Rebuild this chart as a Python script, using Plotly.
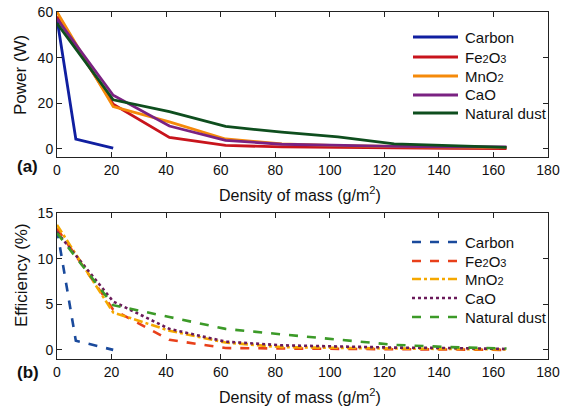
import plotly.graph_objects as go

# ---------------- data ----------------
x_main = [0, 20.6, 41.2, 61.8, 82.4, 103, 123.6, 144.2, 164.8]
x_carbon = [0, 6.9, 20.6]

series_names = ["Carbon", "Fe<span style='font-size:11px'>2</span>O<span style='font-size:11px'>3</span>",
                "MnO<span style='font-size:11px'>2</span>", "CaO", "Natural dust"]

power_carbon = [57, 4.3, 0.3]
power_fe2o3 = [58, 19.5, 5.0, 1.5, 0.8, 0.5, 0.3, 0.2, 0.1]
power_mno2 = [60, 18.5, 11.8, 4.3, 2.2, 1.4, 1.0, 0.7, 0.5]
power_cao = [57, 23.5, 10.0, 3.7, 2.0, 1.4, 1.1, 0.9, 0.8]
power_dust = [55, 21.5, 16.3, 9.8, 7.3, 5.2, 2.2, 1.4, 0.6]

eff_carbon = [13.2, 1.0, 0.0]
eff_fe2o3 = [13.3, 4.4, 1.1, 0.2, 0.15, 0.1, 0.05, 0.05, 0.0]
eff_mno2 = [13.7, 4.1, 2.1, 0.8, 0.3, 0.2, 0.15, 0.1, 0.05]
eff_cao = [12.9, 5.3, 2.3, 0.9, 0.5, 0.35, 0.25, 0.2, 0.1]
eff_dust = [12.8, 4.9, 3.6, 2.3, 1.7, 1.1, 0.55, 0.3, 0.15]

x_ticks = [0, 20, 40, 60, 80, 100, 120, 140, 160, 180]

# ---------------- styles ----------------
top_colors = ["#101fa0", "#c8141c", "#f58a0a", "#7a2282", "#0e4e1e"]
bot_colors = ["#1a4a9c", "#e8401a", "#f5a800", "#6a1a5a", "#3c9a28"]
bot_dash = ["dash", "dash", "dashdot", "dot", "dash"]

FONT = "Liberation Sans, Arial, sans-serif"

W, H = 570, 406
ML, MR, MT, MB = 57, 22, 12, 47
PW, PH = W - ML - MR, H - MT - MB


def px(xp):
    return (xp - ML) / PW


def py(yp):
    return (H - MB - yp) / PH


fig = go.Figure()

top_data = [(x_carbon, power_carbon), (x_main, power_fe2o3), (x_main, power_mno2),
            (x_main, power_cao), (x_main, power_dust)]
bot_data = [(x_carbon, eff_carbon), (x_main, eff_fe2o3), (x_main, eff_mno2),
            (x_main, eff_cao), (x_main, eff_dust)]

for i, (xx, yy) in enumerate(top_data):
    fig.add_trace(go.Scatter(x=xx, y=yy, mode="lines", name=series_names[i],
                             line=dict(color=top_colors[i], width=2.8),
                             xaxis="x", yaxis="y", showlegend=False))
for i, (xx, yy) in enumerate(bot_data):
    fig.add_trace(go.Scatter(x=xx, y=yy, mode="lines", name=series_names[i],
                             line=dict(color=bot_colors[i], width=2.6, dash=bot_dash[i]),
                             xaxis="x2", yaxis="y2", showlegend=False))

axis_common = dict(showline=True, linecolor="#222", linewidth=1, mirror="allticks",
                   ticks="inside", ticklen=5, tickcolor="#222", showgrid=False,
                   zeroline=False, automargin=False,
                   tickfont=dict(family=FONT, size=14, color="#111"))

fig.update_layout(
    template="none",
    width=W, height=H,
    margin=dict(l=ML, r=MR, t=MT, b=MB, autoexpand=False),
    paper_bgcolor="white", plot_bgcolor="white",
    font=dict(family=FONT, color="#111"),
    xaxis=dict(domain=[0, 1], range=[0, 180], tickvals=x_ticks, anchor="y", **axis_common),
    yaxis=dict(domain=[py(157), py(12)], range=[-3.6, 60], dtick=20, anchor="x", **axis_common),
    xaxis2=dict(domain=[0, 1], range=[0, 180], tickvals=x_ticks, anchor="y2", **axis_common),
    yaxis2=dict(domain=[0, py(213)], range=[-1, 15], dtick=5, anchor="x2", **axis_common),
    showlegend=False,
)

# ---- legends (key line + label) ----
top_rows = [37, 57, 76, 95, 113]
bot_rows = [242, 261, 279, 298, 317]
for i in range(5):
    fig.add_shape(type="line", xref="paper", yref="paper",
                  x0=px(413), x1=px(458), y0=py(top_rows[i]), y1=py(top_rows[i]),
                  line=dict(color=top_colors[i], width=2.8))
    fig.add_annotation(text=series_names[i], x=px(463), y=py(top_rows[i]), xref="paper",
                       yref="paper", xanchor="left", yanchor="middle", showarrow=False,
                       font=dict(family=FONT, size=15, color="#111"))
    fig.add_shape(type="line", xref="paper", yref="paper",
                  x0=px(412), x1=px(457), y0=py(bot_rows[i]), y1=py(bot_rows[i]),
                  line=dict(color=bot_colors[i], width=2.6, dash=bot_dash[i]))
    fig.add_annotation(text=series_names[i], x=px(463), y=py(bot_rows[i]), xref="paper",
                       yref="paper", xanchor="left", yanchor="middle", showarrow=False,
                       font=dict(family=FONT, size=15, color="#111"))

ann = [
    dict(text="Power (W)", x=21, y=75, textangle=-90, size=17),
    dict(text="Efficiency (%)", x=21, y=275, textangle=-90, size=17),
    dict(text="Density of mass (g/m<sup>2</sup>)", x=300, y=194, textangle=0, size=16),
    dict(text="Density of mass (g/m<sup>2</sup>)", x=300, y=396, textangle=0, size=16),
    dict(text="<b>(a)</b>", x=27, y=166, textangle=0, size=17),
    dict(text="<b>(b)</b>", x=28, y=372, textangle=0, size=17),
]
for a in ann:
    fig.add_annotation(text=a["text"], x=px(a["x"]), y=py(a["y"]), xref="paper", yref="paper",
                       xanchor="center", yanchor="middle", showarrow=False,
                       textangle=a["textangle"],
                       font=dict(family=FONT, size=a["size"], color="#111"))

# remove the browser's default 8px body margin so the 570x406 figure fills the window
fig.write_html("out.html", config={"displayModeBar": False},
               post_script="document.body.style.margin='0';")
